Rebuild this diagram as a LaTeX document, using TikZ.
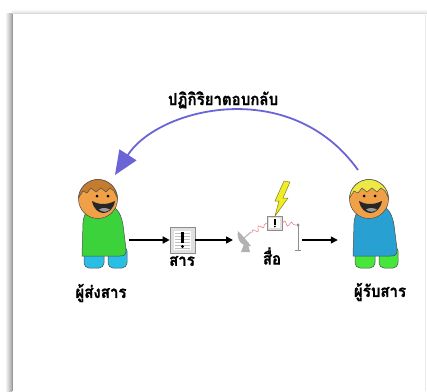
\documentclass[tikz,border=0pt]{standalone}
\usepackage{fontspec}
\newfontfamily\thaifont[Script=Thai, FakeBold=0.8]{Loma}
\usetikzlibrary{arrows.meta,decorations.pathmorphing,shadings}

\definecolor{feedback}{RGB}{106,100,214}
\definecolor{skin}{RGB}{240,160,70}
\definecolor{hairbrown}{RGB}{196,124,48}
\definecolor{hairblond}{RGB}{236,232,70}
\definecolor{shirtgreen}{RGB}{60,210,60}
\definecolor{shirtblue}{RGB}{40,160,210}
\definecolor{legblue}{RGB}{40,190,230}
\definecolor{leggreen}{RGB}{70,230,60}
\definecolor{wave}{RGB}{240,130,140}
\definecolor{bolt}{RGB}{240,236,40}

% heavy Thai captions
\newcommand\thaitext[1]{\scalebox{0.97}[1.08]{\thaifont\bfseries\fontsize{15.5}{17}\selectfont #1}}

\tikzset{
  label/.style={inner sep=0pt},
  flow/.style={-{Triangle[length=7pt,width=7pt]}, line width=1.5pt, black},
  outline/.style={draw=black!70, line width=0.5pt},
  iconbox/.style={fill=black!12, draw=black!45, line width=0.6pt},
  signal/.style={wave, line width=0.6pt, decorate,
    decoration={snake, amplitude=2.2pt, segment length=7pt}},
}

% one smiling figure: #1 hair, #2 shirt, #3 legs, #4 face shift
\newcommand\drawperson[4]{%
  % legs
  \fill[#3, outline, rounded corners=5pt] (-14,47) rectangle (6,69);
  \fill[#3, outline, rounded corners=5pt] (10,47) rectangle (29,69);
  % body
  \fill[#2, outline] (-16,57) -- (-15,24)
     .. controls (-14,10) and (-5,5) .. (5,5)
     .. controls (17,5) and (23,13) .. (25,26)
     -- (28,50) .. controls (28.5,56) and (26,57) .. (22,57) -- cycle;
  % head
  \fill[skin, outline] (0,0) circle (19.5);
  % hair
  \fill[#1, outline] (-19.5,-1) arc[start angle=183, end angle=357, radius=19.5]
     -- (16,-8) -- (12,-11) -- (8,-7) -- (3,-11) -- (-2,-7) -- (-7,-11)
     -- (-11,-6) -- (-15,-8) -- cycle;
  % face
  \begin{scope}[xshift=#4]
    \fill (-5,-3) circle (1.5);
    \fill (6,-3) circle (1.5);
    \fill[black!85] (-10,2) .. controls (-7,18) and (10,18) .. (13,2)
       .. controls (5,6) and (-3,6) .. cycle;
    \fill[black!40] (-3,10.5) .. controls (0,13.5) and (5,13.5) .. (8,10.5)
       .. controls (4,8.5) and (0,8.5) .. cycle;
  \end{scope}
}

\begin{document}
\begin{tikzpicture}[x=1pt, y=-1pt]
\useasboundingbox (0,0) rectangle (427,391);
\fill[white] (0,0) rectangle (427,391);

% page edge with its soft shadow
\shade[left color=white, right color=black!35] (5,13) rectangle (12,391);
\draw[black!40, line width=0.8pt] (12,13) -- (12,391);
\shade[top color=white, bottom color=black!12] (12,9) rectangle (427,13);
\draw[black!15, line width=0.6pt] (12,13) -- (427,13);
\draw[black!8, line width=0.6pt] (425,13) -- (425,391);

% the two people
\begin{scope}[shift={(98,199)}]
  \drawperson{hairbrown}{shirtgreen}{legblue}{4}
\end{scope}
\begin{scope}[shift={(369,199)}]
  \drawperson{hairblond}{shirtblue}{leggreen}{0}
\end{scope}

\node[minimum width=52pt, minimum height=90pt] (sender) at (103,240) {};
\node[minimum width=68pt, minimum height=90pt] (receiver) at (372,240) {};

% message icon
\node[iconbox, minimum width=25pt, minimum height=26pt, inner sep=0pt] (message) at (182.5,240) {};
\fill[white] (174,231) rectangle (191,250);
\foreach \yy in {233,236,239,242,245,248}
  \draw[black!25, line width=0.6pt] (175,\yy) -- (190,\yy);
\fill[black] (181,232) rectangle (184,243);
\fill[black] (182.5,246.5) circle (1.7);

% dish
\node[minimum width=10pt, minimum height=20pt, inner sep=0pt] (dish) at (244,242) {};
\fill[black!30] (238,231) .. controls (236,240) and (242,247) .. (251,246)
   .. controls (248,242) and (243,236) .. cycle;
\fill[black!30] (244,244) -- (248,244) -- (250,252) -- (241,252) -- cycle;
\draw[black!30, line width=1pt] (244,238) -- (251,232);

% small message box in transit
\node[iconbox, minimum width=15pt, minimum height=14pt, inner sep=0pt] (channel) at (274.5,223) {};
\fill[white] (269,218) rectangle (280,228);
\fill[black] (274,218.5) rectangle (275.5,224.5);
\fill[black] (274.8,226.5) circle (1);

% antenna
\coordinate (antenna) at (298,225);
\draw[black!45, line width=1pt] (antenna) -- (298,250);
\draw[black!45, line width=1pt] (295,250) -- (301,250);
\fill[black!45] (antenna) circle (1.6);

% signal waves and lightning
\draw[signal] (252,233) -- (channel.west);
\draw[signal] (channel.east) -- (296,225);
\fill[bolt, draw=black!45!bolt, line width=0.5pt]
  (284,181) -- (290,182) -- (283,198) -- (288,198) -- (275,216)
  -- (279,201) -- (275,201) -- cycle;

% flow arrows
\draw[flow] (sender.east) -- (message.west);
\coordinate (dishin) at (233,240);
\draw[flow] (message.east) -- (dishin);
\coordinate (r1) at (302,240);
\draw[flow] (r1) -- (receiver.west);

% feedback arc
\coordinate (fbstart) at (358,170);
\coordinate (fbend) at (115,175);
\draw[feedback, line width=1.8pt, -{Triangle[length=24pt, width=20pt]}]
  (fbstart) .. controls (290,75) and (158,108) .. (fbend);

% labels
\node[label] (fblabel) at (223,100) {\thaitext{ปฏิกิริยาตอบกลับ}};
\node[label] (senderlabel) at (101,293) {\thaitext{ผู้ส่งสาร}};
\node[label] (receiverlabel) at (380,292) {\thaitext{ผู้รับสาร}};
\node[label] (messagelabel) at (182,261) {\thaitext{สาร}};
\node[label] (channellabel) at (272,256) {\thaitext{สื่อ}};
\end{tikzpicture}
\end{document}
